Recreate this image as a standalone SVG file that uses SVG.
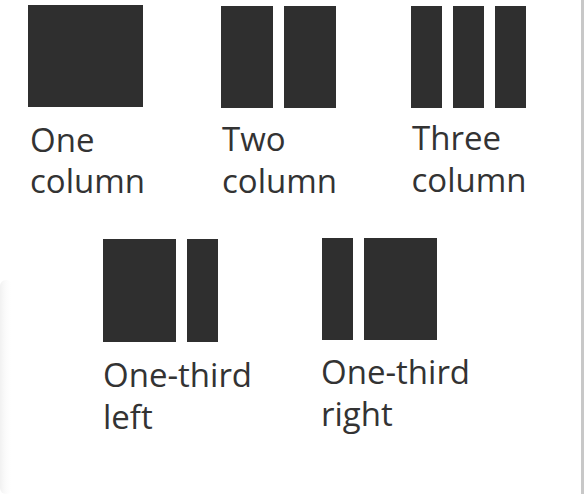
<svg xmlns="http://www.w3.org/2000/svg" width="584" height="494" viewBox="0 0 584 494">
<defs>
<linearGradient id="shadow" x1="0" y1="0" x2="1" y2="0">
<stop offset="0" stop-color="#f1f1f1"/>
<stop offset="1" stop-color="#ffffff" stop-opacity="0"/>
</linearGradient>
<style>
.blk{fill:#2f2f2f}
.lbl{font-family:"Open Sans","Noto Sans","Liberation Sans",sans-serif;font-size:33px;fill:#333333}
</style>
</defs>
<rect x="0" y="0" width="584" height="494" fill="#ffffff"/>
<rect x="0" y="280" width="13" height="214" rx="6" fill="url(#shadow)"/>
<rect x="581" y="0" width="3" height="494" fill="#c8c8c8"/>
<g id="one-column">
<rect class="blk" x="28" y="5" width="115" height="102"/>
<text class="lbl" x="30" y="151.5">One</text>
<text class="lbl" x="30" y="193">column</text>
</g>
<g id="two-column">
<rect class="blk" x="221" y="6" width="52" height="102"/>
<rect class="blk" x="284" y="6" width="52" height="102"/>
<text class="lbl" x="222" y="150.5">Two</text>
<text class="lbl" x="222" y="192.5">column</text>
</g>
<g id="three-column">
<rect class="blk" x="411" y="6" width="31" height="102"/>
<rect class="blk" x="453" y="6" width="31" height="102"/>
<rect class="blk" x="495" y="6" width="31" height="102"/>
<text class="lbl" x="412" y="150">Three</text>
<text class="lbl" x="411.5" y="192">column</text>
</g>
<g id="one-third-left">
<rect class="blk" x="103" y="239" width="73" height="103"/>
<rect class="blk" x="187" y="239" width="31" height="103"/>
<text class="lbl" x="103" y="386.5">One-third</text>
<text class="lbl" x="103" y="428.5">left</text>
</g>
<g id="one-third-right">
<rect class="blk" x="322" y="238" width="31" height="102"/>
<rect class="blk" x="364" y="238" width="73" height="102"/>
<text class="lbl" x="321" y="384">One-third</text>
<text class="lbl" x="321" y="426">right</text>
</g>
<g id="connectors"/>
</svg>
